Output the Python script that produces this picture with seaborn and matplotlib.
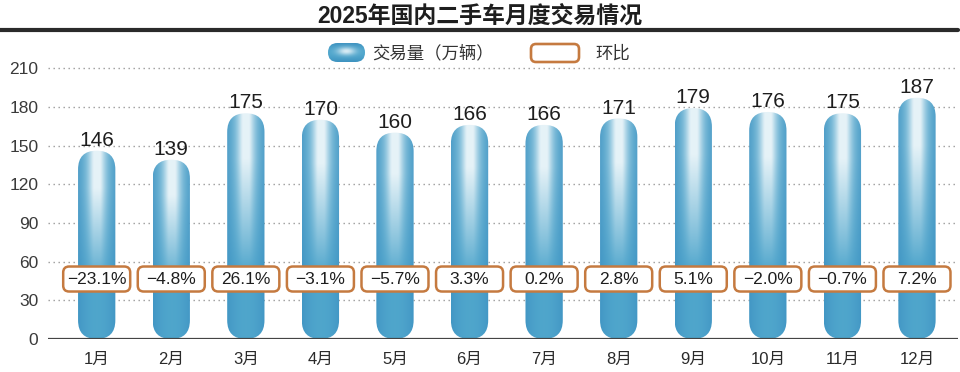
import numpy as np
import pandas as pd
import matplotlib
matplotlib.use('Agg')
import matplotlib.pyplot as plt
import seaborn as sns
from matplotlib.patches import FancyBboxPatch
from matplotlib.lines import Line2D

# Data
months = [f'{i}月' for i in range(1, 13)]
volume = [146, 139, 175, 170, 160, 166, 166, 171, 179, 176, 175, 187]   # 万辆
mom = [-23.1, -4.8, 26.1, -3.1, -5.7, 3.3, 0.2, 2.8, 5.1, -2.0, -0.7, 7.2]  # 环比 %
yticks = [0, 30, 60, 90, 120, 150, 180, 210]

title = '2025年国内二手车月度交易情况'
legend_bar = '交易量（万辆）'
legend_box = '环比'

df = pd.DataFrame({'month': months, 'volume': volume})

sns.set_style('white')
SANS = ['Liberation Sans', 'Noto Sans CJK SC', 'DejaVu Sans']
plt.rcParams['font.family'] = SANS

ORANGE = '#c57a40'
TXT = '#1e1e1e'

W, H = 960, 372
fig = plt.figure(figsize=(9.6, 3.72), dpi=100)
ax = fig.add_axes([48 / W, 33 / H, 910 / W, 279 / H])

sns.barplot(data=df, x='month', y='volume', ax=ax, width=0.5,
            color='#4fa5cc', saturation=1)

xlim = (-0.653, 11.55)
ylim = (0, 279 * 30 / 38.7)
ax.set_xlim(*xlim)
ax.set_ylim(*ylim)

# data units per pixel, used to keep the caps round
xpp = (xlim[1] - xlim[0]) / 910
ypp = (ylim[1] - ylim[0]) / 279
aspect = ypp / xpp


def bar_gradient(nx=80, ny=300):
    u = np.linspace(-1, 1, nx)[None, :]
    v = np.linspace(1, 0, ny)[:, None]
    base = np.array([0.31, 0.65, 0.80])
    edge = np.array([0.26, 0.59, 0.77])
    light = np.array([0.90, 0.95, 0.97])
    col = base + (edge - base) * (np.abs(u) ** 2)[..., None]
    hl = 0.85 * np.exp(-(u / 0.42) ** 2) + 0.3 * np.exp(-(u / 0.9) ** 2)
    hl = np.clip(hl, 0, 1) * np.clip((v - 0.3) / 0.5, 0, 1) ** 0.9
    col = col + (light - col) * hl[..., None]
    return np.clip(col, 0, 1)


grad = bar_gradient()
for p in list(ax.patches):
    x0, w, h = p.get_x(), p.get_width(), p.get_height()
    p.set_visible(False)
    cap = FancyBboxPatch((x0, 0), w, h,
                         boxstyle=f'round,pad=0,rounding_size={w / 2}',
                         mutation_aspect=aspect, fc='none', ec='none', zorder=2)
    ax.add_patch(cap)
    im = ax.imshow(grad, extent=(x0, x0 + w, 0, h), aspect='auto',
                   interpolation='bicubic', zorder=2)
    im.set_clip_path(cap)

ax.set_xlim(*xlim)
ax.set_ylim(*ylim)

# value labels and 环比 boxes
bw, bh = 67 * xpp, 25 * ypp
for i, (v, m) in enumerate(zip(volume, mom)):
    ax.text(i, v + 3.8, str(v), ha='center', va='baseline', fontsize=15,
            color=TXT, zorder=5)
    box = FancyBboxPatch((i - bw / 2, 46.5 - bh / 2), bw, bh,
                         boxstyle=f'round,pad=0,rounding_size={6 * xpp}',
                         mutation_aspect=aspect, fc='white', ec=ORANGE,
                         lw=1.8, zorder=4)
    ax.add_patch(box)
    lab = f'{m:.1f}%'.replace('-', '\u2212')
    ax.text(i, 46.5, lab, ha='center', va='center', fontsize=12.5,
            color=TXT, zorder=5)

ax.set_yticks(yticks)
ax.set_yticklabels([str(t) for t in yticks])
ax.grid(axis='y', ls=(0, (1, 2.6)), color='#9a9a9a', lw=1.0, zorder=0)
ax.grid(axis='x', visible=False)
ax.set_axisbelow(True)
ax.axhline(0, color='#444444', lw=1.6, zorder=3)
for s in ax.spines.values():
    s.set_visible(False)
ax.tick_params(axis='y', length=0, pad=7, labelsize=12.5, labelcolor='#3a3a3a')
ax.tick_params(axis='x', length=0, pad=9, labelsize=12, labelcolor='#2a2a2a')
ax.set_xlabel('')
ax.set_ylabel('')

# overlay in pixel units for title, rule and legend
ov = fig.add_axes([0, 0, 1, 1])
ov.set_xlim(0, W)
ov.set_ylim(H, 0)
ov.axis('off')
ov.patch.set_alpha(0)

ov.text(480, 16, title, ha='center', va='center', fontsize=16.5,
        fontweight='bold', color=TXT)
ov.add_line(Line2D([0, 958], [30, 30], lw=3, color='#2a2a2a'))


def legend_gradient(nx=80, ny=40):
    u = np.linspace(-1, 1, nx)[None, :]
    w = np.linspace(-1, 1, ny)[:, None]
    base = np.array([0.31, 0.65, 0.80])
    edge = np.array([0.24, 0.57, 0.75])
    light = np.array([0.92, 0.96, 0.98])
    col = base + (edge - base) * (np.abs(w) ** 2)[..., None]
    hl = 0.9 * np.exp(-(u / 0.5) ** 2 - ((w + 0.15) / 0.42) ** 2)
    col = col + (light - col) * hl[..., None]
    return np.clip(col, 0, 1)


leg_cap = FancyBboxPatch((328, 43), 37, 19, boxstyle='round,pad=0,rounding_size=9.5',
                         fc='none', ec='none')
ov.add_patch(leg_cap)
lim = ov.imshow(legend_gradient(), extent=(328, 365, 62, 43), aspect='auto',
                interpolation='bicubic')
lim.set_clip_path(leg_cap)
ov.set_xlim(0, W)
ov.set_ylim(H, 0)
ov.text(372, 53, legend_bar, ha='left', va='center', fontsize=12.5, color='#333333')

ov.add_patch(FancyBboxPatch((531, 44), 48, 18, boxstyle='round,pad=0,rounding_size=5',
                            fc='white', ec=ORANGE, lw=1.9))
ov.text(595, 53, legend_box, ha='left', va='center', fontsize=12.5, color='#333333')

fig.savefig('out.png', dpi=100)
